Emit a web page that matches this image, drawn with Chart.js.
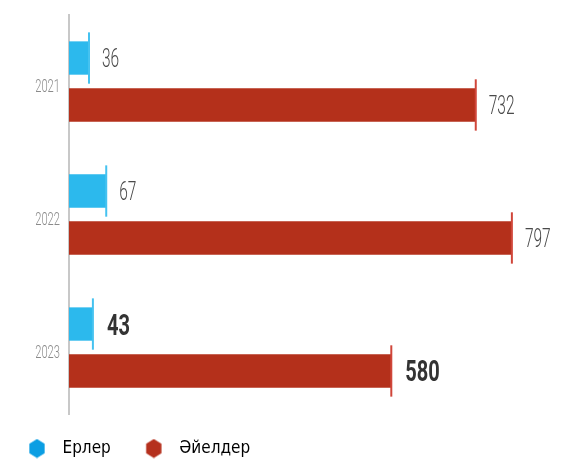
<!DOCTYPE html>
<html>
<head>
<meta charset="utf-8">
<script src="https://cdn.jsdelivr.net/npm/chart.js@4.4.1/dist/chart.umd.min.js"></script>
<style>
html,body{margin:0;padding:0;background:#fff;}
#wrap{width:572px;height:462px;position:relative;}
</style>
</head>
<body>
<div id="wrap"><canvas id="c" width="572" height="462"></canvas></div>
<script>
const years = ['2021', '2022', '2023'];
const seriesNames = ['Ерлер', 'Әйелдер'];
const men = [36, 67, 43];
const women = [732, 797, 580];
const boldYear = '2023';

const FONT = "Roboto, 'DejaVu Sans Condensed', sans-serif";
const barColors = ['#2cb9ed', '#b4301b'];
const tickColors = ['#45c2f0', '#d0463a'];
const legendColors = ['#0b9ee3', '#b5301d'];

function hexagon(color) {
  const c = document.createElement('canvas');
  c.width = 18; c.height = 20;
  const g = c.getContext('2d');
  g.fillStyle = color;
  g.beginPath();
  const cx = 9, cy = 10, r = 9.6;
  for (let i = 0; i < 6; i++) {
    const a = Math.PI / 2 + i * Math.PI / 3;
    const x = cx + r * Math.cos(a) * 0.92, y = cy + r * Math.sin(a);
    if (i === 0) g.moveTo(x, y); else g.lineTo(x, y);
  }
  g.closePath();
  g.fill();
  return c;
}
const hexes = legendColors.map(hexagon);

function squeezedText(ctx, text, x, y, font, color, sx, align) {
  ctx.save();
  ctx.font = font;
  ctx.fillStyle = color;
  ctx.textBaseline = 'alphabetic';
  const w = ctx.measureText(text).width * sx;
  ctx.translate(align === 'right' ? x - w : x, y);
  ctx.scale(sx, 1);
  ctx.fillText(text, 0, 0);
  ctx.restore();
}

const marksAndLabels = {
  id: 'marksAndLabels',
  afterDatasetsDraw(chart) {
    const ctx = chart.ctx;
    const yScale = chart.scales.y;
    chart.data.labels.forEach((lab, i) => {
      const py = yScale.getPixelForValue(i);
      squeezedText(ctx, lab, yScale.right - 9, py + 4 + 6.5, '300 18px ' + FONT, '#8a8a8a', 0.62, 'right');
    });
    chart.data.datasets.forEach((ds, di) => {
      const meta = chart.getDatasetMeta(di);
      meta.data.forEach((el, i) => {
        const h = el.height;
        ctx.save();
        ctx.strokeStyle = tickColors[di];
        ctx.lineWidth = 2;
        ctx.beginPath();
        ctx.moveTo(el.x, el.y - h / 2 - 9);
        ctx.lineTo(el.x, el.y + h / 2 + 9);
        ctx.stroke();
        ctx.restore();

        const bold = chart.data.labels[i] === boldYear;
        if (bold) {
          squeezedText(ctx, String(ds.data[i]), el.x + 14, el.y + 10.5, 'bold 29.5px ' + FONT, '#333333', 0.68);
        } else {
          squeezedText(ctx, String(ds.data[i]), el.x + 13, el.y + 9, '300 25px ' + FONT, '#4a4a4a', 0.62);
        }
      });
    });
  }
};

new Chart(document.getElementById('c'), {
  type: 'bar',
  data: {
    labels: years,
    datasets: [
      { label: seriesNames[0], data: men, backgroundColor: barColors[0] },
      { label: seriesNames[1], data: women, backgroundColor: barColors[1] }
    ]
  },
  options: {
    indexAxis: 'y',
    responsive: false,
    animation: false,
    devicePixelRatio: 1,
    categoryPercentage: 0.706,
    barPercentage: 0.71,
    layout: { padding: { top: 15, left: -6, right: 14, bottom: -5 } },
    scales: {
      x: { display: false, min: 0, max: 880 },
      y: {
        grid: { display: false, drawTicks: false },
        border: { display: true, color: '#c8c8c8', width: 2 },
        ticks: { display: false },
        afterFit(scale) { scale.width = 75; }
      }
    },
    plugins: {
      tooltip: { enabled: false },
      legend: {
        position: 'bottom',
        align: 'start',
        labels: {
          usePointStyle: true,
          pointStyleWidth: 34,
          padding: 26,
          color: '#555555',
          font: { family: "'DejaVu Sans Condensed', sans-serif", size: 17, weight: 'normal' },
          generateLabels(chart) {
            return chart.data.datasets.map((ds, i) => ({
              text: ds.label,
              fillStyle: legendColors[i],
              strokeStyle: legendColors[i],
              lineWidth: 0,
              pointStyle: hexes[i],
              hidden: false,
              datasetIndex: i
            }));
          }
        }
      }
    }
  },
  plugins: [marksAndLabels]
});
</script>
</body>
</html>
